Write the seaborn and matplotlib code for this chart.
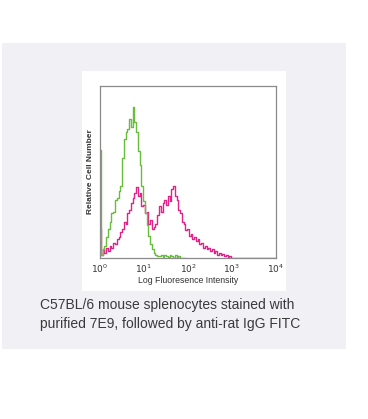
import numpy as np
import pandas as pd
import matplotlib
matplotlib.use("Agg")
import matplotlib.pyplot as plt
import seaborn as sns
from matplotlib.patches import Rectangle

# ---- data (log10 bin centres, relative counts as fraction of axis height) ----
green_counts = [0.63, 0.02, 0.05, 0.07, 0.12, 0.17, 0.21, 0.26, 0.27, 0.34,
                0.35, 0.39, 0.42, 0.58, 0.69, 0.73, 0.75, 0.81, 0.76, 0.88,
                0.79, 0.73, 0.62, 0.54, 0.42, 0.33, 0.26, 0.19, 0.13, 0.08,
                0.05, 0.03, 0.02, 0.01, 0.01, 0.015, 0.005, 0.02, 0.01, 0.005,
                0.02, 0.01, 0.0, 0.015, 0.0, 0.01, 0.0, 0.0, 0.0, 0.0]
magenta_counts = [0.17, 0.02, 0.05, 0.03, 0.06, 0.04, 0.07, 0.06, 0.09, 0.08,
                  0.11, 0.12, 0.15, 0.17, 0.21, 0.20, 0.26, 0.28, 0.32, 0.35,
                  0.38, 0.41, 0.36, 0.38, 0.30, 0.31, 0.26, 0.27, 0.20, 0.22,
                  0.17, 0.18, 0.20, 0.25, 0.30, 0.27, 0.32, 0.34, 0.31, 0.36,
                  0.33, 0.40, 0.42, 0.36, 0.34, 0.28, 0.26, 0.21, 0.20, 0.16,
                  0.17, 0.13, 0.14, 0.11, 0.12, 0.10, 0.11, 0.08, 0.09, 0.06,
                  0.07, 0.05, 0.06, 0.04, 0.05, 0.03, 0.04, 0.02, 0.03, 0.02,
                  0.025, 0.01, 0.02, 0.005, 0.01, 0.0, 0.0]
bin_step = 0.04
tick_exponents = [0, 1, 2, 3, 4]
xlabel = "Log Fluoresence Intensity"
ylabel = "Relative Cell Number"
caption = "C57BL/6 mouse splenocytes stained with\npurified 7E9, followed by anti-rat IgG FITC"

green_log = np.arange(len(green_counts)) * bin_step
magenta_log = np.append(np.arange(len(magenta_counts) - 1) * bin_step, 4.0)

df_g = pd.DataFrame({"x": 10 ** green_log, "y": green_counts})
df_m = pd.DataFrame({"x": 10 ** magenta_log, "y": magenta_counts})

sns.set_style("white")
plt.rcParams["font.family"] = ["Liberation Sans", "DejaVu Sans"]

fig = plt.figure(figsize=(3.68, 4.19), dpi=100)
fig.patch.set_facecolor("white")

# lavender panel and white box behind the plot
fig.patches.append(Rectangle((2 / 368, 70 / 419), 344 / 368, 306 / 419,
                             transform=fig.transFigure, facecolor="#f1f0f5",
                             edgecolor="none", zorder=-10))
fig.patches.append(Rectangle((82 / 368, 128 / 419), 204 / 368, 220 / 419,
                             transform=fig.transFigure, facecolor="white",
                             edgecolor="none", zorder=-9))

ax = fig.add_axes([100 / 368, 161 / 419, 176 / 368, 172 / 419])
ax.set_zorder(5)
ax.set_facecolor("white")

sns.lineplot(data=df_m, x="x", y="y", ax=ax, color="#e3218a", lw=1.0,
             drawstyle="steps-mid", estimator=None, sort=False)
sns.lineplot(data=df_g, x="x", y="y", ax=ax, color="#66be3c", lw=1.0,
             drawstyle="steps-mid", estimator=None, sort=False)

ax.set_xscale("log")
ax.set_xlim(1, 1e4)
ax.set_ylim(0, 1)
ax.set_xticks([10 ** e for e in tick_exponents])
ax.set_xticklabels([f"$10^{{{e}}}$" for e in tick_exponents], fontsize=6.5,
                   color="#333333")
ax.minorticks_off()
ax.tick_params(axis="x", length=0, pad=3)
ax.set_yticks([])
ax.set_xlabel(xlabel, fontsize=6.3, color="#333333", labelpad=1)
ax.set_ylabel(ylabel, fontsize=6.0, color="#333333", labelpad=4,
              fontweight="bold")
for s in ax.spines.values():
    s.set_color("#8a8a8a")
    s.set_linewidth(0.9)

fig.text(40 / 368, 1 - 298 / 419, caption, fontsize=10, color="#3a3a3a",
         ha="left", va="top", linespacing=1.45, zorder=6)

fig.savefig("out.png", dpi=100)
